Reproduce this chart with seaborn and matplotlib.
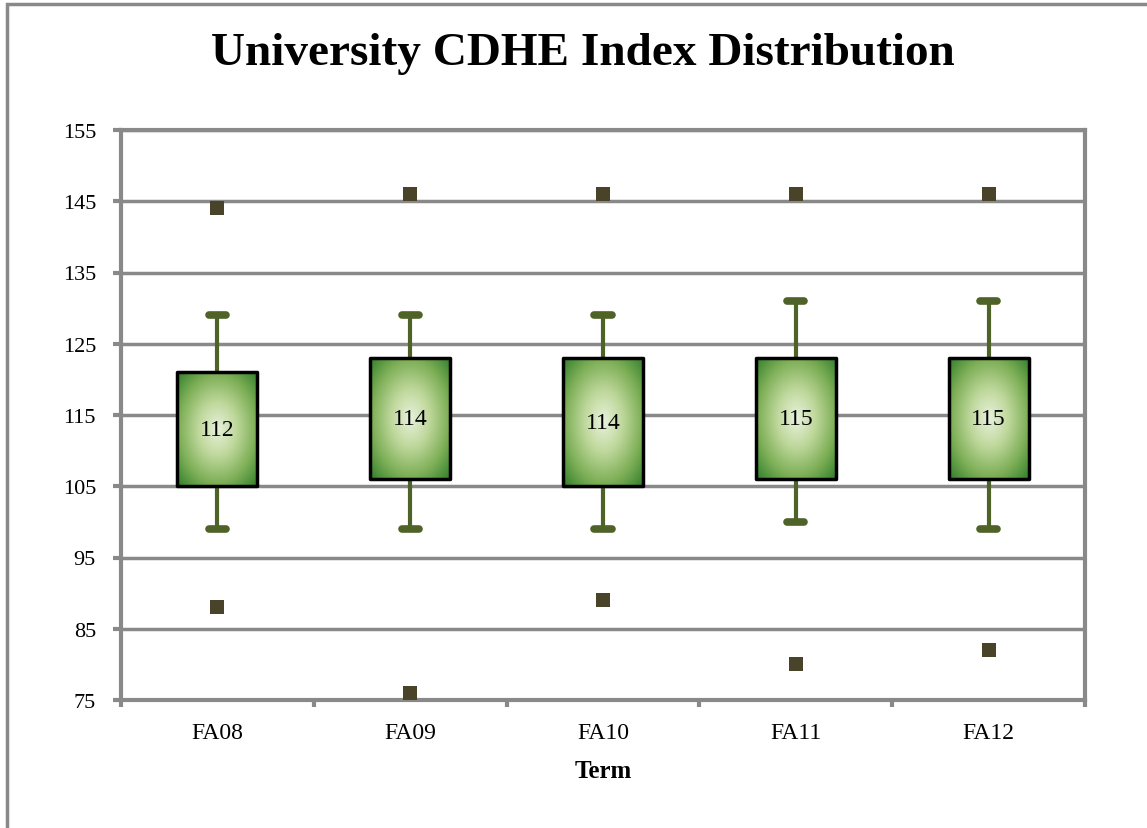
import numpy as np
import matplotlib
matplotlib.use("Agg")
import matplotlib.pyplot as plt
from matplotlib.colors import LinearSegmentedColormap
from matplotlib.patches import Rectangle
import pandas as pd
import seaborn as sns

terms = ["FA08", "FA09", "FA10", "FA11", "FA12"]
q1 = [105, 106, 105, 106, 106]
q3 = [121, 123, 123, 123, 123]
whisker_low = [99, 99, 99, 100, 99]
whisker_high = [129, 129, 129, 131, 131]
medians = [112, 114, 114, 115, 115]
outlier_high = [144, 146, 146, 146, 146]
outlier_low = [88, 76, 89, 80, 82]

sns.set_style("white")
plt.rcParams['font.family'] = ['Liberation Serif', 'DejaVu Serif']
plt.rcParams['text.color'] = 'black'
plt.rcParams['axes.labelcolor'] = 'black'

GRID = "#898989"
WHISK = "#4f6228"
MARK = "#494429"

fig = plt.figure(figsize=(11.47, 8.29), dpi=100)
ax = fig.add_axes([121 / 1147, 1 - 701 / 829, (1085 - 121) / 1147, (701 - 131) / 829])

# outer chart border (cropped on the right and bottom)
fig.patches.append(Rectangle((7 / 1147, -0.1), 1.2, 1 - 5 / 829 + 0.1, transform=fig.transFigure,
                             fill=False, edgecolor=GRID, linewidth=2.5))

stats = []
for i, t in enumerate(terms):
    stats.append(dict(label=t, q1=q1[i], q3=q3[i], med=medians[i], whislo=whisker_low[i],
                      whishi=whisker_high[i], fliers=[]))

bp = ax.bxp(stats, positions=range(len(terms)), widths=0.415, capwidths=0.09, patch_artist=True,
            showfliers=False,
            boxprops=dict(facecolor="none", edgecolor="black", linewidth=2.5, joinstyle="round"),
            whiskerprops=dict(color=WHISK, linewidth=3),
            capprops=dict(color=WHISK, linewidth=5.5, solid_capstyle="round"),
            medianprops=dict(linewidth=0))
for box in bp["boxes"]:
    box.set_zorder(4)
for artist in bp["whiskers"] + bp["caps"]:
    artist.set_zorder(3)

# radial gradient inside each box
cmap = LinearSegmentedColormap.from_list("grad", ["#e8f2dc", "#bfd89c", "#7fb058", "#2f7d2a"])
yy, xx = np.mgrid[-1:1:200j, -1:1:200j]
dist = np.sqrt(xx ** 2 + yy ** 2) / np.sqrt(2)
for i, box in enumerate(bp["boxes"]):
    im = ax.imshow(dist, cmap=cmap, vmin=0, vmax=1, aspect="auto", zorder=3.5,
                   extent=[i - 0.2075, i + 0.2075, q1[i], q3[i]], interpolation="bilinear")
    im.set_clip_path(box)
    ax.text(i, (q1[i] + q3[i]) / 2, str(medians[i]), ha="center", va="center", fontsize=17, zorder=5)

outliers = pd.DataFrame({"Term": terms * 2, "Index": outlier_high + outlier_low})
sns.stripplot(data=outliers, x="Term", y="Index", order=terms, jitter=False, marker="s", size=10,
              color=MARK, linewidth=0, ax=ax, zorder=6)

ax.set_xlim(-0.5, len(terms) - 0.5)
ax.set_ylim(75, 155)
ax.set_yticks(range(75, 156, 10))
ax.yaxis.grid(True, color=GRID, linewidth=2.5)
ax.set_axisbelow(True)
for s in ax.spines.values():
    s.set_color(GRID)
    s.set_linewidth(3)

ax.set_xticks(range(len(terms)))
ax.set_xticklabels(terms)
ax.set_xticks(np.arange(-0.5, len(terms), 1), minor=True)
ax.tick_params(axis="x", which="major", bottom=False, labelsize=17, pad=12, labelcolor="black")
ax.tick_params(axis="x", which="minor", bottom=True, length=5, width=3, color=GRID, direction="out")
ax.tick_params(axis="y", left=True, length=6, width=3, color=GRID, direction="out", labelsize=16,
               pad=12, labelcolor="black")

ax.set_xlabel("Term", fontsize=18, fontweight="bold", labelpad=12)
ax.set_ylabel("")
fig.text(0.508, 1 - 65 / 829, "University CDHE Index Distribution", fontsize=34, fontweight="bold",
         ha="center", va="baseline")

fig.savefig("out.png", dpi=100)
